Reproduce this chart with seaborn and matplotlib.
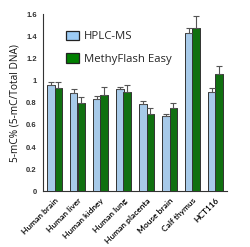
import matplotlib
matplotlib.use("Agg")
import matplotlib.pyplot as plt
import seaborn as sns
import pandas as pd
import numpy as np
from matplotlib.patches import Patch

categories = ["Human brain", "Human liver", "Human kidney", "Human lung",
              "Human placenta", "Mouse brain", "Calf thymus", "HCT116"]
series = ["HPLC-MS", "MethyFlash Easy"]
hplc = [0.96, 0.89, 0.83, 0.92, 0.79, 0.68, 1.43, 0.90]
hplc_err = [0.03, 0.03, 0.03, 0.02, 0.03, 0.02, 0.04, 0.03]
methy = [0.93, 0.795, 0.87, 0.90, 0.70, 0.75, 1.47, 1.06]
methy_err = [0.06, 0.06, 0.07, 0.06, 0.05, 0.05, 0.11, 0.07]
yticks = [0, 0.2, 0.4, 0.6, 0.8, 1, 1.2, 1.4, 1.6]
ytick_labels = ["0", "0.2", "0.4", "0.6", "0.8", "1", "1.2", "1.4", "1.6"]

colors = ["#9CCBF4", "#008000"]

df = pd.DataFrame({
    "cat": categories * 2,
    "series": [series[0]] * len(categories) + [series[1]] * len(categories),
    "val": hplc + methy,
    "err": hplc_err + methy_err,
})

sns.set_style("white")
plt.rcParams['font.family'] = ['Open Sans', 'DejaVu Sans']

fig = plt.figure(figsize=(2.5, 2.47), dpi=100)
ax = fig.add_axes([0.172, 0.225, 0.736, 0.718])

sns.barplot(data=df, x="cat", y="val", hue="series", order=categories,
            hue_order=series, palette=colors, errorbar=None, width=0.62,
            edgecolor="#333333", linewidth=0.7, ax=ax, legend=False, zorder=3)

# error bars at the library-positioned bars
for container, s in zip(ax.containers, series):
    sub = df[df.series == s].set_index("cat").loc[categories]
    xs = [p.get_x() + p.get_width() / 2 for p in container.patches]
    ax.errorbar(xs, sub["val"].values,
                yerr=[np.zeros(len(xs)), sub["err"].values],
                fmt="none", ecolor="#555555", elinewidth=0.8, capsize=2.2,
                capthick=0.8, zorder=4)

ax.set_ylim(0, 1.6)
ax.set_xlim(-0.5, len(categories) - 0.5)
ax.set_yticks(yticks)
ax.set_yticklabels(ytick_labels, fontsize=5.5, fontweight="bold", color="#333333",
                   family=["Liberation Sans", "DejaVu Sans"])
ax.set_xticks(np.arange(len(categories) + 1) - 0.5, minor=True)
ax.set_xticks(np.arange(len(categories)))
ax.set_xticklabels(categories, rotation=45, ha="right", rotation_mode="anchor",
                   fontsize=6.0, color="#000000", family=["Lato", "DejaVu Sans"],
                   fontweight="semibold")
ax.tick_params(axis="x", which="major", length=0, pad=4)
ax.tick_params(axis="x", which="minor", length=2.5, width=0.7, color="#333333", direction="out")
ax.tick_params(axis="y", length=2.5, width=0.7, color="#333333", direction="out", pad=2)
ax.set_xlabel("")
ax.set_ylabel("5-mC% (5-mC/Total DNA)", fontsize=7.3, color="#111111", labelpad=4)

for side in ["top", "right"]:
    ax.spines[side].set_visible(False)
for side in ["left", "bottom"]:
    ax.spines[side].set_color("#333333")
    ax.spines[side].set_linewidth(0.8)

handles = [Patch(facecolor=colors[0], edgecolor="#222222", linewidth=0.9),
           Patch(facecolor=colors[1], edgecolor="#222222", linewidth=0.9)]
ax.legend(handles, series, loc="upper left", bbox_to_anchor=(0.07, 0.965),
          frameon=False, fontsize=8.2, handlelength=1.1, handleheight=0.95,
          labelspacing=0.95, handletextpad=0.5)

fig.savefig("out.png", dpi=100)
